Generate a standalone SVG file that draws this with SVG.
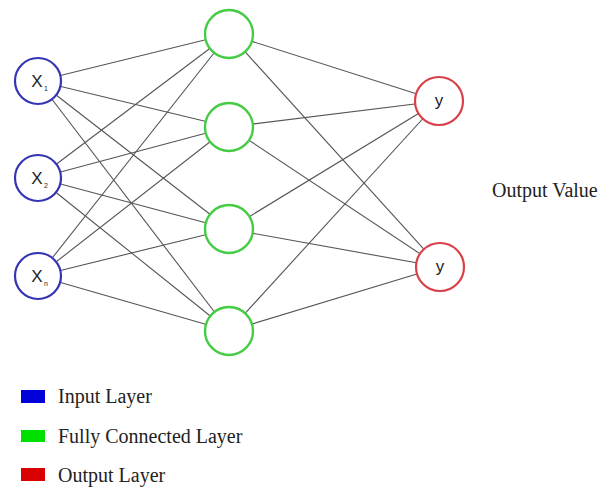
<svg xmlns="http://www.w3.org/2000/svg" width="602" height="488" viewBox="0 0 602 488">
<style>
.edge{stroke:#555;stroke-width:1.1;fill:none}
.in{fill:#fff;stroke:#3434b4;stroke-width:2.2}
.hid{fill:#fff;stroke:#44cc44;stroke-width:2.4}
.out{fill:#fff;stroke:#d8404a;stroke-width:2.2}
.lbl{font-family:"Liberation Sans",Arial,sans-serif;font-size:17px;fill:#222;text-anchor:middle}
.sub{font-family:"Liberation Sans",Arial,sans-serif;font-size:7px;fill:#222}
.serif{font-family:"Liberation Serif","Times New Roman",serif;font-size:20px;fill:#222}
</style>
<rect width="602" height="488" fill="#fff"/>
<g id="connectors">
<line class="edge" x1="38" y1="81" x2="229" y2="34"/>
<line class="edge" x1="38" y1="81" x2="229" y2="127"/>
<line class="edge" x1="38" y1="81" x2="229" y2="229"/>
<line class="edge" x1="38" y1="81" x2="229" y2="331"/>
<line class="edge" x1="38" y1="178" x2="229" y2="34"/>
<line class="edge" x1="38" y1="178" x2="229" y2="127"/>
<line class="edge" x1="38" y1="178" x2="229" y2="229"/>
<line class="edge" x1="38" y1="178" x2="229" y2="331"/>
<line class="edge" x1="38" y1="276" x2="229" y2="34"/>
<line class="edge" x1="38" y1="276" x2="229" y2="127"/>
<line class="edge" x1="38" y1="276" x2="229" y2="229"/>
<line class="edge" x1="38" y1="276" x2="229" y2="331"/>
<line class="edge" x1="229" y1="34" x2="439" y2="101"/>
<line class="edge" x1="229" y1="34" x2="440" y2="267"/>
<line class="edge" x1="229" y1="127" x2="439" y2="101"/>
<line class="edge" x1="229" y1="127" x2="440" y2="267"/>
<line class="edge" x1="229" y1="229" x2="439" y2="101"/>
<line class="edge" x1="229" y1="229" x2="440" y2="267"/>
<line class="edge" x1="229" y1="331" x2="439" y2="101"/>
<line class="edge" x1="229" y1="331" x2="440" y2="267"/>
</g>
<g id="x1"><circle class="in" cx="38" cy="81" r="23"/><text class="lbl" x="37" y="87">X</text><text class="sub" x="44" y="91">1</text></g>
<g id="x2"><circle class="in" cx="38" cy="178" r="23"/><text class="lbl" x="37" y="184">X</text><text class="sub" x="44" y="188">2</text></g>
<g id="xn"><circle class="in" cx="38" cy="276" r="23"/><text class="lbl" x="37" y="282">X</text><text class="sub" x="44" y="286">n</text></g>
<g id="h1"><circle class="hid" cx="229" cy="34" r="24"/></g>
<g id="h2"><circle class="hid" cx="229" cy="127" r="24"/></g>
<g id="h3"><circle class="hid" cx="229" cy="229" r="24"/></g>
<g id="h4"><circle class="hid" cx="229" cy="331" r="24"/></g>
<g id="y1"><circle class="out" cx="439" cy="101" r="24"/><text class="lbl" x="439" y="106">y</text></g>
<g id="y2"><circle class="out" cx="440" cy="267" r="24"/><text class="lbl" x="440" y="272">y</text></g>
<g id="output-value"><text class="serif" x="492" y="197">Output Value</text></g>
<g id="legend">
<rect x="21" y="390" width="24" height="13" fill="#0000d8"/>
<text class="serif" x="58" y="403">Input Layer</text>
<rect x="21" y="430" width="24" height="12" fill="#00e000"/>
<text class="serif" x="58" y="443">Fully Connected Layer</text>
<rect x="21" y="468" width="24" height="13" fill="#d80000"/>
<text class="serif" x="58" y="482">Output Layer</text>
</g>
</svg>
